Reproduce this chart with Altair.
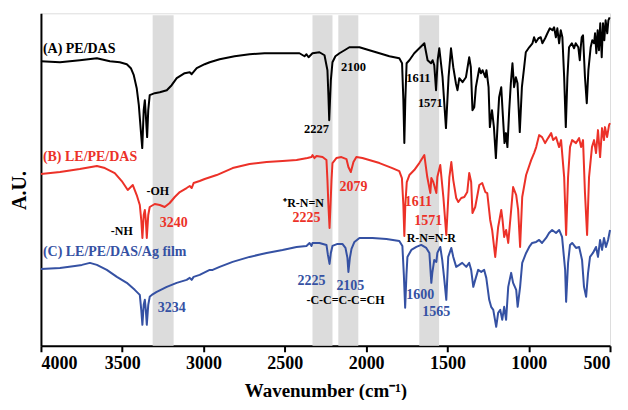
import altair as alt
import pandas as pd

# ---- spectrum A : PE/DAS (wavenumber, A.U.)
wn_A = [4000, 3883, 3761, 3656, 3576, 3515, 3472, 3447, 3429, 3411, 3398, 3386, 3377, 3368, 3361, 3355, 3347, 3340,
        3331, 3300, 3269, 3226, 3196, 3165, 3116, 3085, 3073, 3042, 2993, 2962, 2901, 2809, 2717, 2625, 2502, 2410,
        2379, 2367, 2354, 2330, 2287, 2256, 2238, 2232, 2227, 2217, 2207, 2189, 2164, 2133, 2103, 2041, 1980, 1918,
        1857, 1796, 1779, 1771, 1765, 1759, 1751, 1734, 1704, 1673, 1642, 1622, 1601, 1591, 1581, 1570, 1560, 1550,
        1530, 1509, 1493, 1478, 1464, 1448, 1438, 1427, 1407, 1386, 1366, 1356, 1346, 1335, 1325, 1304, 1294, 1284,
        1267, 1260, 1247, 1239, 1226, 1214, 1202, 1190, 1182, 1169, 1161, 1149, 1140, 1131, 1120, 1110, 1100, 1090,
        1079, 1069, 1055, 1042, 1028, 1018, 997, 977, 967, 956, 940, 926, 916, 899, 885, 870, 854, 844, 833, 824,
        813, 803, 793, 782, 772, 762, 752, 735, 721, 711, 695, 686, 680, 674, 666, 654, 643, 633, 619, 609, 598,
        592, 584, 576, 568, 560, 551, 543, 535, 527, 517, 510, 502]
au_A = [283, 282, 284, 286, 283, 282, 280, 276, 269, 256, 239, 214, 196, 234, 244, 229, 207, 234,
        249, 251, 252, 254, 259, 266, 271, 272, 270, 276, 280, 282, 285, 288, 290, 291, 291, 291,
        288, 290, 287, 291, 292, 289, 274, 249, 224, 264, 282, 288, 291, 294, 297, 297, 294, 291,
        288, 286, 281, 244, 201, 244, 281, 284, 291, 296, 301, 284, 281, 284, 279, 254, 284, 296,
        267, 216, 267, 296, 277, 261, 254, 266, 262, 267, 287, 277, 234, 237, 257, 276, 271, 274,
        267, 274, 257, 217, 234, 217, 186, 224, 247, 257, 234, 201, 211, 197, 234, 261, 281, 257,
        267, 261, 212, 257, 277, 292, 297, 301, 307, 302, 306, 307, 301, 306, 311, 316, 314, 317, 307, 316,
        301, 314, 307, 267, 217, 267, 297, 301, 296, 301, 297, 284, 297, 307, 309, 267, 241, 274, 297, 304, 301,
        311, 291, 314, 294, 321, 287, 321, 304, 324, 311, 324, 327]

# ---- spectrum B : LE/PE/DAS
wn_B = [4000, 3883, 3761, 3656, 3607, 3546, 3503, 3466, 3435, 3411, 3392, 3383, 3376, 3368, 3361, 3355, 3349, 3340,
        3331, 3300, 3269, 3239, 3208, 3177, 3146, 3104, 3085, 3073, 3061, 3024, 2993, 2919, 2821, 2717, 2612, 2514,
        2428, 2361, 2336, 2330, 2318, 2305, 2268, 2244, 2238, 2232, 2225, 2219, 2213, 2207, 2183, 2152, 2121, 2109,
        2094, 2078, 2060, 2023, 1918, 1839, 1796, 1780, 1771, 1765, 1759, 1750, 1734, 1704, 1673, 1642, 1624, 1605,
        1599, 1587, 1568, 1562, 1544, 1525, 1507, 1488, 1476, 1464, 1446, 1433, 1415, 1396, 1378, 1366, 1354, 1346,
        1329, 1304, 1286, 1267, 1255, 1237, 1225, 1206, 1188, 1169, 1161, 1151, 1139, 1126, 1108, 1096, 1077, 1065,
        1053, 1040, 1016, 985, 967, 954, 936, 918, 899, 881, 862, 850, 832, 813, 801, 782, 770, 758, 746, 733,
        709, 690, 678, 666, 654, 641, 629, 611, 598, 586, 574, 561, 549, 537, 531, 518, 506, 500]
au_B = [170, 172, 175, 178, 176, 171, 163, 154, 159, 149, 139, 124, 106, 129, 134, 124, 106, 129,
        137, 140, 139, 137, 141, 147, 152, 156, 158, 156, 161, 163, 165, 169, 176, 180, 182, 183,
        184, 186, 187, 189, 186, 188, 187, 184, 164, 139, 116, 139, 164, 181, 186, 187, 185, 177,
        172, 182, 187, 186, 181, 176, 173, 166, 139, 108, 139, 162, 169, 174, 181, 189, 167, 151,
        166, 162, 151, 167, 179, 147, 109, 167, 182, 164, 146, 142, 146, 147, 152, 171, 162, 131,
        137, 159, 161, 152, 151, 124, 114, 87, 117, 134, 124, 107, 114, 101, 134, 157, 149, 134,
        97, 147, 169, 184, 191, 197, 209, 207, 201, 206, 211, 204, 207, 197, 204, 167, 109, 167, 197, 204,
        201, 206, 197, 204, 151, 109, 167, 197, 204, 191, 214, 187, 216, 204, 217, 207, 219, 221]

# ---- spectrum C : LE/PE/DAS/Ag film
wn_C = [4000, 3883, 3791, 3748, 3699, 3656, 3595, 3533, 3472, 3423, 3392, 3383, 3376, 3368, 3361, 3355, 3349, 3340,
        3331, 3318, 3288, 3226, 3165, 3104, 3085, 3073, 3061, 3024, 2962, 2944, 2901, 2821, 2717, 2612, 2514, 2428,
        2367, 2348, 2336, 2330, 2287, 2244, 2235, 2225, 2217, 2207, 2176, 2146, 2127, 2115, 2109, 2100, 2090, 2072,
        2041, 1961, 1875, 1796, 1777, 1768, 1760, 1752, 1746, 1722, 1691, 1661, 1630, 1611, 1599, 1593, 1581, 1568,
        1562, 1544, 1532, 1519, 1507, 1495, 1476, 1464, 1446, 1427, 1409, 1384, 1366, 1354, 1341, 1329, 1311, 1292,
        1274, 1261, 1243, 1231, 1218, 1200, 1188, 1175, 1163, 1151, 1139, 1126, 1108, 1096, 1077, 1068, 1053, 1040,
        1016, 997, 979, 954, 936, 918, 893, 875, 856, 832, 813, 795, 776, 770, 758, 746, 733, 709, 690, 672,
        660, 647, 635, 623, 605, 586, 574, 561, 549, 537, 525, 512, 500]
au_C = [75, 76, 78, 79, 81, 79, 74, 67, 61, 54, 49, 34, 19, 39, 44, 34, 19, 39,
        47, 49, 52, 57, 61, 64, 66, 64, 67, 69, 74, 74, 77, 82, 87, 91, 94, 97,
        98, 101, 98, 101, 101, 99, 89, 80, 91, 98, 100, 100, 96, 86, 72, 86, 95, 102,
        106, 106, 105, 103, 98, 69, 36, 69, 87, 94, 97, 99, 96, 91, 61, 71, 84, 82,
        91, 97, 84, 64, 44, 87, 96, 87, 77, 79, 81, 77, 81, 74, 57, 64, 74, 72,
        74, 66, 44, 37, 34, 17, 31, 34, 24, 37, 24, 57, 71, 61, 54, 37, 57, 81,
        91, 97, 101, 102, 104, 101, 106, 111, 114, 111, 114, 107, 74, 42, 81, 99, 101, 96, 97, 84,
        57, 47, 71, 87, 91, 97, 87, 104, 94, 106, 97, 104, 114]

# ---- shaded bands (wavenumber ranges)
band_hi = [3313, 2330, 2171, 1673]
band_lo = [3184, 2207, 2048, 1551]

# ---- annotations
ann_text = ["(A) PE/DAS", "(B) LE/PE/DAS", "(C) LE/PE/DAS/Ag film",
            "-OH", "-NH", "3240", "3234",
            "2227", "2100", "1611", "1571",
            "\u207aR-N=N", "2225", "2079", "1611", "1571", "R-N=N-R",
            "2225", "2105", "-C-C=C-C=CH", "1600", "1565"]
ann_wn = [3988, 3988, 3988,
          3282, 3503, 3183, 3196,
          2305, 2078, 1679, 1605,
          2385, 2367, 2078, 1679, 1618, 1599,
          2336, 2097, 2127, 1667, 1569]
ann_au = [295, 187, 92,
          153, 113, 121, 36,
          215, 277, 266, 241,
          141, 126, 157, 142, 123, 106,
          63, 58, 44, 49, 32]
ann_col = ["A", "B", "C",
           "K", "K", "B", "C",
           "K", "K", "K", "K",
           "K", "B", "B", "B", "B", "K",
           "C", "C", "K", "C", "C"]
ann_size = [14, 14, 14,
            12, 12, 14, 14,
            12.5, 12.5, 12.5, 12.5,
            12, 14, 14, 14, 14, 12,
            14, 14, 12, 14, 14]
ann_align = ["left", "left", "left"] + ["center"] * 19

series_keys = ["A", "B", "C", "K"]
series_colors = ["#000000", "#ec3128", "#3551a3", "#000000"]

rows = []
for key, wn, au in (("A", wn_A, au_A), ("B", wn_B, au_B), ("C", wn_C, au_C)):
    for i, (w, a) in enumerate(zip(wn, au)):
        rows.append({"series": key, "i": i, "wn": w, "au": a})
spec = pd.DataFrame(rows)
bands = pd.DataFrame({"hi": band_hi, "lo": band_lo})
ann = pd.DataFrame({"text": ann_text, "wn": ann_wn, "au": ann_au, "series": ann_col,
                    "size": ann_size, "align": ann_align})

FONT = "Liberation Serif"
xscale = alt.Scale(domain=[500, 4000], reverse=True, nice=False, zero=False)
yscale = alt.Scale(domain=[-2, 331], nice=False, zero=False)
cscale = alt.Scale(domain=series_keys, range=series_colors)

band_layer = alt.Chart(bands).mark_rect(color="#dcdcdc").encode(
    x=alt.X("hi:Q", scale=xscale),
    x2="lo:Q",
    y=alt.datum(329, scale=yscale),
    y2=alt.datum(-2),
)

lines = alt.Chart(spec).mark_line(strokeWidth=2, strokeJoin="round").encode(
    x=alt.X("wn:Q", scale=xscale,
            axis=alt.Axis(values=[4000, 3500, 3000, 2500, 2000, 1500, 1000, 500],
                          format="d", grid=False, domainColor="black", domainWidth=2,
                          tickColor="black", tickWidth=2, tickSize=6,
                          labelFont=FONT, labelFontSize=18, labelFontWeight="bold",
                          labelColor="black", labelPadding=3,
                          title="Wavenumber (cm\u207b\u00b9)", titleFont=FONT,
                          titleFontSize=19, titleFontWeight="bold", titleColor="black",
                          titleBaseline="alphabetic", titleY=51, titleX=285)),
    y=alt.Y("au:Q", scale=yscale,
            axis=alt.Axis(grid=False, ticks=False, labels=False, domainColor="black",
                          domainWidth=2, title="A.U.", titleFont=FONT, titleFontSize=20,
                          titleFontWeight="bold", titleColor="black", titleAngle=-90,
                          titleBaseline="middle", titleX=-21, titleY=177)),
    color=alt.Color("series:N", scale=cscale, legend=None),
    order="i:Q",
    detail="series:N",
)

texts = []
for al in ("left", "center"):
    sub = ann[ann["align"] == al]
    texts.append(alt.Chart(sub).mark_text(font=FONT, fontWeight="bold", align=al,
                                          baseline="middle").encode(
        x=alt.X("wn:Q", scale=xscale),
        y=alt.Y("au:Q", scale=yscale),
        text="text:N",
        size=alt.Size("size:Q", scale=None, legend=None),
        color=alt.Color("series:N", scale=cscale, legend=None),
    ))

chart = alt.layer(band_layer, lines, *texts).properties(
    width=570, height=333,
    autosize=alt.AutoSizeParams(type="none"),
    padding={"left": 33, "top": 5, "right": 10, "bottom": 54},
).configure_view(stroke=None).configure(background="white")

chart.save("out.html", embed_options={"renderer": "svg", "actions": False})
